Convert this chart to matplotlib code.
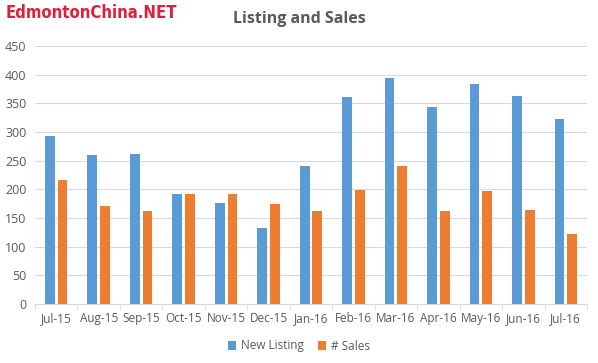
import matplotlib
matplotlib.use("Agg")
import matplotlib.pyplot as plt
import numpy as np

months = ["Jul-15", "Aug-15", "Sep-15", "Oct-15", "Nov-15", "Dec-15", "Jan-16",
          "Feb-16", "Mar-16", "Apr-16", "May-16", "Jun-16", "Jul-16"]
new_listing = [293, 260, 262, 192, 176, 133, 241, 361, 394, 344, 384, 363, 323]
sales = [216, 171, 162, 192, 192, 174, 162, 199, 241, 162, 197, 164, 122]
yticks = [0, 50, 100, 150, 200, 250, 300, 350, 400, 450]

plt.rcParams['font.family'] = ['Open Sans', 'DejaVu Sans']
W, H = 598, 363
fig = plt.figure(figsize=(W/100, H/100), dpi=100)
ax = fig.add_axes([35/W, (H-304)/H, 552/W, 258/H])

x = np.arange(len(months))
bw = 0.23
b1 = ax.bar(x - 0.15, new_listing, bw, color="#5B9BD5", label="New Listing", zorder=3)
b2 = ax.bar(x + 0.15, sales, bw, color="#ED7D31", label="# Sales", zorder=3)

ax.set_xlim(-0.5, len(months) - 0.5)
ax.set_ylim(0, 450)
ax.set_yticks(yticks)
ax.set_yticklabels([str(v) for v in yticks])
ax.grid(axis='y', color="#D9D9D9", linewidth=0.8, zorder=0)
for s in ['top', 'right', 'left']:
    ax.spines[s].set_visible(False)
ax.spines['bottom'].set_color("#D9D9D9")
ax.tick_params(axis='y', length=0, labelsize=9, labelcolor="#595959", pad=6)
ax.set_xticks(x)
ax.set_xticklabels(months)
ax.tick_params(axis='x', length=0, labelsize=8.5, labelcolor="#595959", pad=6)
ax.set_xticks(np.arange(-0.5, len(months), 1), minor=True)
ax.tick_params(axis='x', which='minor', length=4, color="#D9D9D9")

fig.text(0.5, 1 - 19/H, "Listing and Sales", ha='center', va='center',
         fontsize=11.5, color="#595959", fontweight='bold')
fig.text(6/W, 1 - 13/H, "EdmontonChina.NET", ha='left', va='center',
         fontsize=12, color="#E0203A", fontweight='bold', fontstretch='condensed',
         family=['DejaVu Sans'])

fig.legend(handles=[b1, b2], loc='center', bbox_to_anchor=(0.5, 1 - 346/H),
           ncol=2, frameon=False, fontsize=8.5, handlelength=0.7, handleheight=0.7,
           columnspacing=1.2, handletextpad=0.4, labelcolor="#595959")

fig.savefig("out.png", dpi=100)
